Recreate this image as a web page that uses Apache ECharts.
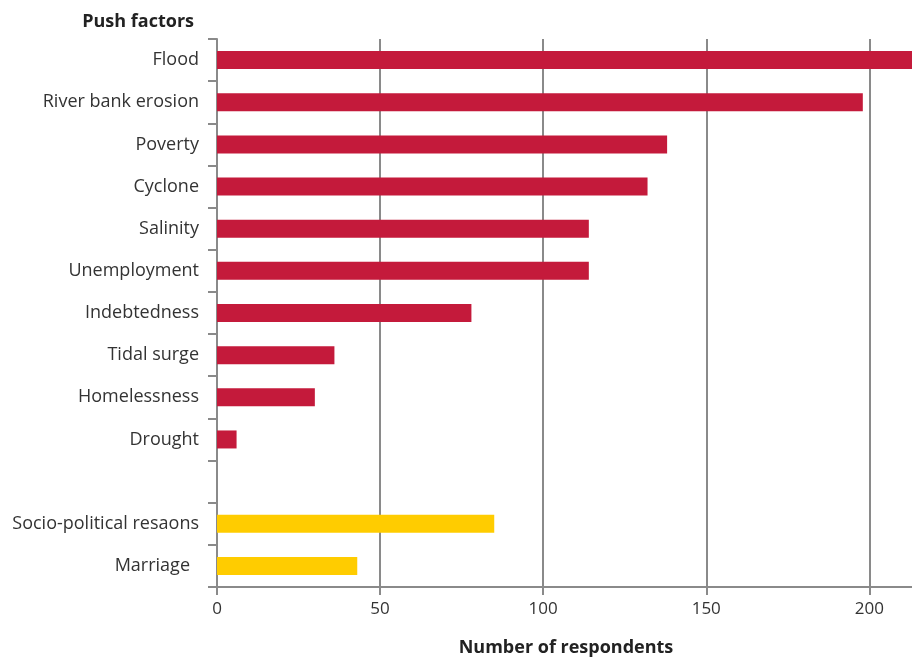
<!DOCTYPE html>
<html>
<head>
<meta charset="utf-8">
<script src="https://cdn.jsdelivr.net/npm/echarts@6/dist/echarts.min.js"></script>
<style>
html, body { margin: 0; padding: 0; background: #fff; }
#chart { width: 912px; height: 659px; }
</style>
</head>
<body>
<div id="chart"></div>
<script>
// push factors (red), then an empty row, then other reasons (yellow)
const pushFactors = ['Flood', 'River bank erosion', 'Poverty', 'Cyclone', 'Salinity', 'Unemployment', 'Indebtedness', 'Tidal surge', 'Homelessness', 'Drought']
const pushValues = [230, 198, 138, 132, 114, 114, 78, 36, 30, 6]
const otherFactors = ['Socio-political resaons', 'Marriage']
const otherValues = [85, 43]
const xTicks = [0, 50, 100, 150, 200]

const categories = [...pushFactors, '', ...otherFactors].map(c =>
 c === 'Marriage' ? { value: c, textStyle: { padding: [0, 9, 0, 0] } } : c
)
const values = [...pushValues, '-', ...otherValues]

const chart = echarts.init(document.getElementById('chart'))
const font = '"Open Sans", "Noto Sans", sans-serif'

chart.setOption({
 animation: false,
 textStyle: { fontFamily: font },
 title: {
  text: 'Push factors',
  right: 912 - 199,
  top: 8,
  textStyle: { fontSize: 18, fontWeight: 'bold', color: '#222', fontFamily: font }
 },
 grid: {
  left: 217,
  right: -3,
  top: 39,
  bottom: 72,
  containLabel: false,
  outerBoundsMode: 'none'
 },
 xAxis: {
  type: 'value',
  min: 0,
  max: 214,
  interval: 50,
  name: 'Number of respondents',
  nameLocation: 'middle',
  nameGap: 52,
  nameTextStyle: { fontSize: 18, fontWeight: 'bold', color: '#222' },
  axisLine: { show: true, lineStyle: { color: '#8a8a8a', width: 2 } },
  axisTick: { show: true, length: 8, lineStyle: { color: '#8a8a8a', width: 2 } },
  axisLabel: {
   fontSize: 17,
   color: '#333',
   margin: 14,
   formatter: v => (xTicks.includes(v) ? String(v) : '')
  },
  splitLine: { show: true, lineStyle: { color: '#8a8a8a', width: 2 } }
 },
 yAxis: {
  type: 'category',
  inverse: true,
  data: categories,
  axisLine: { show: true, lineStyle: { color: '#8a8a8a', width: 2 } },
  axisTick: { show: true, length: 9, lineStyle: { color: '#8a8a8a', width: 2 } },
  axisLabel: { fontSize: 18, color: '#333', margin: 18 }
 },
 series: [
  {
   type: 'bar',
   data: values,
   barWidth: 18,
   itemStyle: {
    color: p => (p.dataIndex < pushFactors.length ? '#c41a3b' : '#ffcc00')
   }
  }
 ]
})
</script>
</body>
</html>
